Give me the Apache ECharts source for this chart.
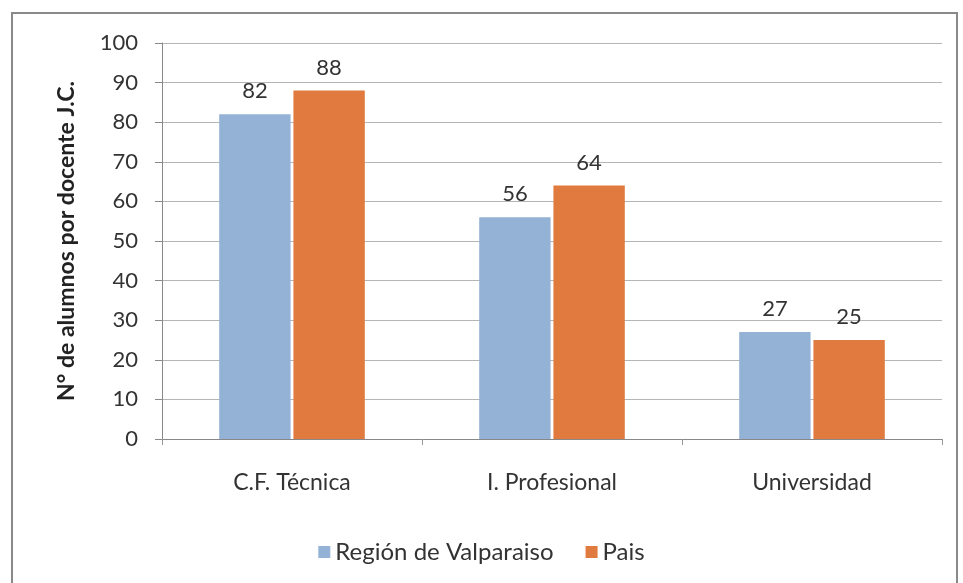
<!DOCTYPE html>
<html>
<head>
<meta charset="utf-8">
<script src="https://cdn.jsdelivr.net/npm/echarts@6/dist/echarts.min.js"></script>
<style>
  html, body { margin: 0; padding: 0; background: #fff; }
  #chart { width: 963px; height: 583px; }
</style>
</head>
<body>
<div id="chart"></div>
<script>
// datos
var categorias = ['C.F. Técnica', 'I. Profesional', 'Universidad'];
var region = [82, 56, 27];
var pais = [88, 64, 25];
var ticksY = [0, 10, 20, 30, 40, 50, 60, 70, 80, 90, 100];

var fuente = 'Lato, "Noto Sans", sans-serif';

var chart = echarts.init(document.getElementById('chart'));

var option = {
    backgroundColor: '#fff',
    textStyle: { fontFamily: fuente },
    animation: false,
    graphic: [
        {
            // marco del gráfico
            type: 'rect',
            shape: { x: 12, y: 13, width: 945, height: 580 },
            style: { fill: 'none', stroke: '#8a8a8a', lineWidth: 2 }
        }
    ],
    grid: {
        left: 162,
        right: 21,
        top: 43,
        bottom: 144
    },
    legend: {
        bottom: 14,
        left: 'center',
        itemWidth: 12,
        itemHeight: 12,
        itemGap: 32,
        icon: 'rect',
        textStyle: { fontSize: 24, color: '#333', fontFamily: fuente },
        data: ['Región de Valparaiso', 'Pais']
    },
    xAxis: {
        type: 'category',
        data: categorias,
        axisLine: { lineStyle: { color: '#888', width: 1 } },
        axisTick: { show: true, length: 6, lineStyle: { color: '#999' } },
        axisLabel: { fontSize: 23, color: '#333', margin: 32, fontFamily: fuente }
    },
    yAxis: {
        type: 'value',
        min: ticksY[0],
        max: ticksY[ticksY.length - 1],
        interval: 10,
        name: 'N° de alumnos por docente J.C.',
        nameLocation: 'middle',
        nameGap: 84,
        nameTextStyle: { fontSize: 23, fontWeight: 'bold', color: '#222', fontFamily: fuente },
        axisLine: { show: true, lineStyle: { color: '#888' } },
        axisTick: { show: true, length: 7, lineStyle: { color: '#888' } },
        axisLabel: { fontSize: 22, color: '#333', margin: 24, fontFamily: fuente },
        splitLine: { lineStyle: { color: '#b5b5b5', width: 1 } }
    },
    series: [
        {
            name: 'Región de Valparaiso',
            type: 'bar',
            data: region,
            barGap: '4%',
            barCategoryGap: '44%',
            itemStyle: { color: '#93b2d5' },
            label: { show: true, position: 'top', distance: 12, fontSize: 22, color: '#333', fontFamily: fuente }
        },
        {
            name: 'Pais',
            type: 'bar',
            data: pais,
            itemStyle: { color: '#e07a3f' },
            label: { show: true, position: 'top', distance: 12, fontSize: 22, color: '#333', fontFamily: fuente }
        }
    ]
};

chart.setOption(option);
</script>
</body>
</html>
